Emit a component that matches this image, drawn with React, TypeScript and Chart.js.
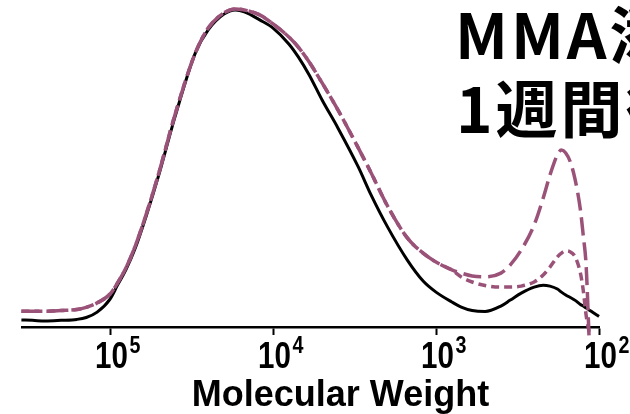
import React, { useEffect, useRef } from "react";
import { Chart, registerables } from "chart.js";

Chart.register(...registerables);

// Molecular weight positions (x, log axis, reversed)
const molecularWeight = [
  350000, 300000, 250000, 200000, 160000, 140000, 120000, 100000, 90000, 80000,
  70000, 60000, 50000, 40000, 30000, 25000, 20000, 17000, 15000, 12000,
  10000, 8000, 7000, 6000, 5000, 4000, 3000, 2500, 2000, 1500,
  1200, 1000, 800, 700, 600, 500, 400, 350, 300, 250,
  220, 200, 180, 170, 160, 150, 140, 130, 125, 120,
  115, 110, 100,
];

// Normalised intensity, solid black curve
const seriesSolid = [
  0.022, 0.021, 0.019, 0.021, 0.024, 0.030, 0.047, 0.088, 0.132, 0.180,
  0.249, 0.350, 0.483, 0.662, 0.864, 0.937, 0.987, 1.000, 0.994, 0.968,
  0.943, 0.893, 0.852, 0.795, 0.716, 0.628, 0.505, 0.416, 0.319, 0.211,
  0.145, 0.110, 0.079, 0.063, 0.052, 0.049, 0.066, 0.085, 0.107, 0.126,
  0.132, 0.129, 0.120, 0.110, 0.101, 0.093, 0.084, 0.071, 0.066, 0.060,
  0.054, 0.047, 0.033,
];

// Long-dashed mauve curve
const seriesLongDash: (number | null)[] = [
  0.050, 0.050, 0.050, 0.052, 0.055, 0.062, 0.076, 0.104, 0.139, 0.186,
  0.256, 0.356, 0.489, 0.669, 0.864, 0.943, 0.991, 1.003, 1.000, 0.984,
  0.956, 0.915, 0.883, 0.836, 0.770, 0.685, 0.565, 0.486, 0.385, 0.281,
  0.233, 0.205, 0.180, 0.170, 0.161, 0.158, 0.170, 0.196, 0.243, 0.322,
  0.407, 0.479, 0.543, 0.558, 0.549, 0.521, 0.464, 0.369, 0.290, 0.196,
  -0.035, null, null,
];

// Short-dashed mauve curve
const seriesShortDash: (number | null)[] = [
  0.050, 0.050, 0.050, 0.052, 0.055, 0.062, 0.076, 0.104, 0.139, 0.186,
  0.256, 0.356, 0.489, 0.669, 0.864, 0.943, 0.991, 1.003, 1.000, 0.984,
  0.956, 0.915, 0.883, 0.836, 0.770, 0.685, 0.565, 0.486, 0.385, 0.281,
  0.233, 0.205, 0.180, 0.158, 0.142, 0.131, 0.126, 0.126, 0.129, 0.142,
  0.164, 0.189, 0.221, 0.233, 0.240, 0.237, 0.221, 0.170, 0.117, 0.038,
  -0.016, null, null,
];

const tickValues = [100000, 10000, 1000, 100];
const tickExponents = ["5", "4", "3", "2"];
const xAxisTitle = "Molecular Weight";
const headline1 = "MMA添加";
const headline2 = "1週間後";

const MAUVE = "#9a5279";

export default function App() {
  const canvasRef = useRef<HTMLCanvasElement | null>(null);

  useEffect(() => {
    const canvas = canvasRef.current;
    if (!canvas) return;

    const textPlugin = {
      id: "customText",
      afterDraw(chart: any) {
        const ctx = chart.ctx as CanvasRenderingContext2D;
        const xs = chart.scales.x;
        const area = chart.chartArea;
        ctx.save();
        ctx.fillStyle = "#000";
        ctx.textBaseline = "alphabetic";
        ctx.textAlign = "left";
        // tick labels 10^n
        tickValues.forEach((v, i) => {
          const px = xs.getPixelForValue(v);
          const left = px - 15;
          ctx.save();
          ctx.translate(left, area.bottom + 41);
          ctx.scale(0.82, 1);
          ctx.font = 'bold 36px "Liberation Sans", Arial, sans-serif';
          ctx.fillText("10", 0, 0);
          const w = ctx.measureText("10").width;
          ctx.font = 'bold 24px "Liberation Sans", Arial, sans-serif';
          ctx.fillText(tickExponents[i], w + 2, -15);
          ctx.restore();
        });
        // axis title
        ctx.font = 'bold 36px "Liberation Sans", Arial, sans-serif';
        ctx.textAlign = "center";
        ctx.fillText(xAxisTitle, (area.left + area.right) / 2 + 30, area.bottom + 79);
        // headline
        ctx.textAlign = "left";
        ctx.font = 'bold 62px "Noto Sans CJK JP", sans-serif';
        try {
          (ctx as any).letterSpacing = "3px";
        } catch (e) {}
        ctx.fillText(headline1, 455, 59);
        ctx.fillText(headline2, 456, 133);
        ctx.restore();
      },
    };

    const chart = new Chart(canvas, {
      type: "line",
      data: {
        labels: molecularWeight,
        datasets: [
          {
            label: "solid",
            data: molecularWeight.map((m, i) => ({ x: m, y: seriesSolid[i] })),
            borderColor: "#000",
            borderWidth: 3,
            pointRadius: 0,
            cubicInterpolationMode: "monotone",
            clip: false,
            order: 3,
          },
          {
            label: "short dash",
            data: molecularWeight.map((m, i) => ({ x: m, y: seriesShortDash[i] })),
            borderColor: MAUVE,
            borderWidth: 3.5,
            borderDash: [8, 5],
            pointRadius: 0,
            cubicInterpolationMode: "monotone",
            clip: false,
            spanGaps: false,
            order: 2,
          },
          {
            label: "long dash",
            data: molecularWeight.map((m, i) => ({ x: m, y: seriesLongDash[i] })),
            borderColor: MAUVE,
            borderWidth: 3.5,
            borderDash: [18, 7],
            pointRadius: 0,
            cubicInterpolationMode: "monotone",
            clip: false,
            spanGaps: false,
            order: 1,
          },
        ],
      },
      options: {
        responsive: false,
        animation: false,
        layout: { padding: { left: 22, right: 31, top: 10, bottom: 79 } },
        plugins: { legend: { display: false }, tooltip: { enabled: false } },
        scales: {
          x: {
            type: "logarithmic",
            reverse: true,
            min: 100,
            max: 347000,
            afterBuildTicks: (scale: any) => {
              scale.ticks = tickValues.map((v) => ({ value: v }));
            },
            ticks: { display: false },
            grid: {
              drawOnChartArea: false,
              drawTicks: true,
              tickLength: 8,
              tickWidth: 2,
              tickColor: "#000",
            },
            border: { display: true, color: "#000", width: 2.5 },
            title: { display: false },
          },
          y: {
            display: false,
            min: 0,
            max: 1,
          },
        },
      },
      plugins: [textPlugin],
    });

    return () => chart.destroy();
  }, []);

  return (
    <div style={{ position: "fixed", left: 0, top: 0, width: 630, height: 414, background: "#fff" }}>
      <canvas ref={canvasRef} width={630} height={414} />
    </div>
  );
}
